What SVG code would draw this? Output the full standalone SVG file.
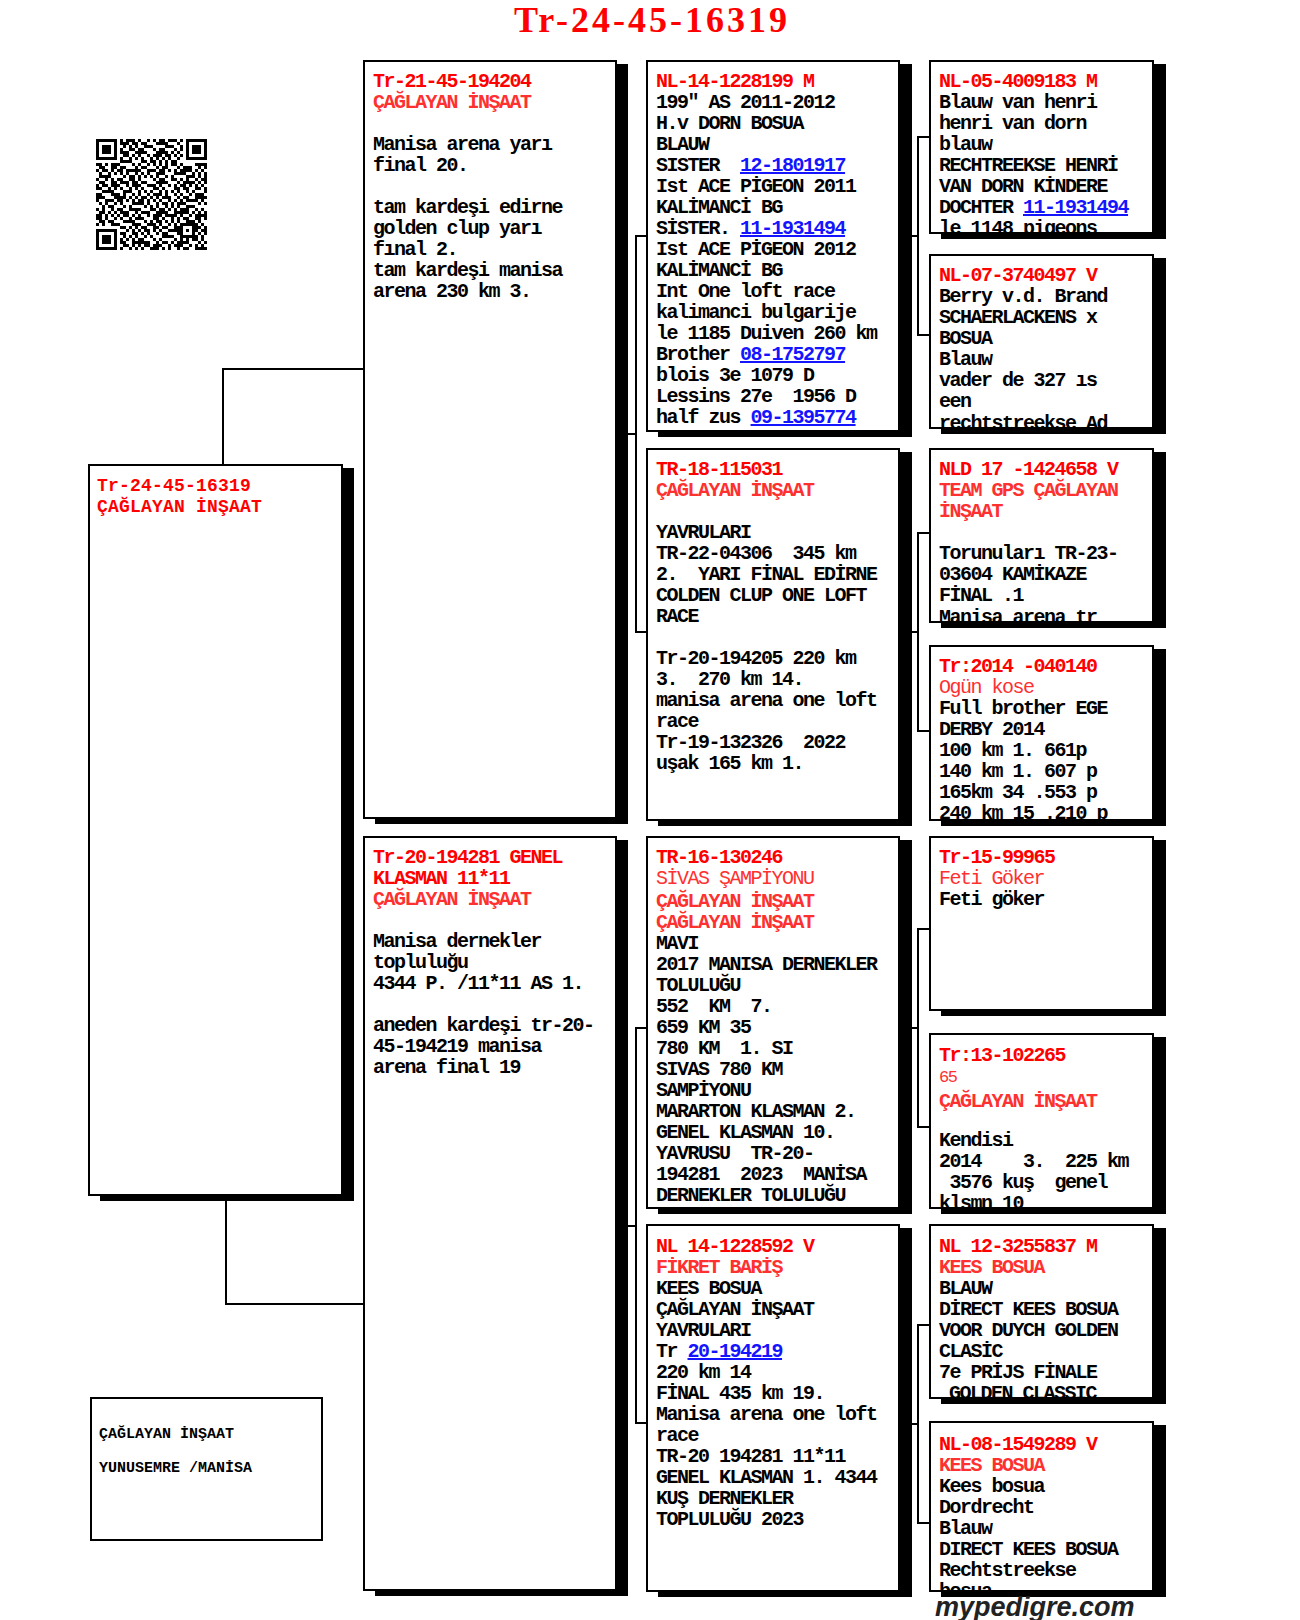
<svg xmlns="http://www.w3.org/2000/svg" width="1300" height="1620" viewBox="0 0 1300 1620" xml:space="preserve">
<style>
text{white-space:pre}
.box{fill:#fff;stroke:#000;stroke-width:2}
.sh{fill:#000}
.t{font-family:"Liberation Mono","DejaVu Sans Mono",monospace;font-size:20px;font-weight:bold;letter-spacing:-1.5px;fill:#000;white-space:pre}
.m{font-family:"Liberation Mono","DejaVu Sans Mono",monospace;font-size:18px;font-weight:bold;letter-spacing:0.2px}
.i{font-family:"Liberation Mono","DejaVu Sans Mono",monospace;font-size:15px;font-weight:bold;fill:#000}
.r{fill:#f00}
.r2{fill:#ff3030}
.lk{fill:#1414ff;text-decoration:underline}
.ln{fill:none;stroke:#000;stroke-width:2}
.title{font-family:"Liberation Serif","DejaVu Serif",serif;font-size:36px;font-weight:bold;fill:#f00}
.foot{font-family:"Liberation Sans","DejaVu Sans",sans-serif;font-size:27px;font-weight:bold;font-style:italic;fill:#222}
</style>
<defs>
<pattern id="qa" patternUnits="userSpaceOnUse" x="96" y="139" width="21" height="15"><path d="M0 0h3v3h-3zM9 0h3v3h-3zM15 0h3v3h-3zM3 3h3v3h-3zM18 3h3v3h-3zM6 6h3v3h-3zM12 6h3v3h-3zM0 9h3v3h-3zM15 9h3v3h-3zM3 12h6v3h-6zM18 12h3v3h-3z" fill="#000"/></pattern>
<pattern id="qb" patternUnits="userSpaceOnUse" x="96" y="139" width="33" height="39"><path d="M0 0h3v3h-3zM9 0h3v3h-3zM24 0h3v3h-3zM3 3h3v3h-3zM15 3h3v3h-3zM27 3h6v3h-6zM6 6h3v3h-3zM18 6h6v3h-6zM0 9h3v3h-3zM12 9h3v3h-3zM24 9h3v3h-3zM9 12h3v3h-3zM15 12h3v3h-3zM30 12h3v3h-3zM3 15h3v3h-3zM18 15h3v3h-3zM27 15h3v3h-3zM0 18h3v3h-3zM6 18h3v3h-3zM21 18h3v3h-3zM12 21h3v3h-3zM24 21h3v3h-3zM30 21h3v3h-3zM3 24h3v3h-3zM9 24h3v3h-3zM18 24h3v3h-3zM15 27h3v3h-3zM27 27h3v3h-3zM0 30h3v3h-3zM6 30h3v3h-3zM21 30h6v3h-6zM12 33h3v3h-3zM18 33h3v3h-3zM30 33h3v3h-3zM3 36h3v3h-3zM9 36h3v3h-3zM27 36h3v3h-3z" fill="#000"/></pattern>
<clipPath id="c-main"><rect x="89" y="465" width="253" height="729"/></clipPath>
<clipPath id="c-s"><rect x="364" y="61" width="252" height="756"/></clipPath>
<clipPath id="c-d"><rect x="364" y="837" width="252" height="752"/></clipPath>
<clipPath id="c-ss"><rect x="647" y="61" width="252" height="369"/></clipPath>
<clipPath id="c-sd"><rect x="647" y="449" width="252" height="370"/></clipPath>
<clipPath id="c-ds"><rect x="647" y="837" width="252" height="370"/></clipPath>
<clipPath id="c-dd"><rect x="647" y="1225" width="252" height="365"/></clipPath>
<clipPath id="c-sss"><rect x="930" y="61" width="223" height="171"/></clipPath>
<clipPath id="c-ssd"><rect x="930" y="255" width="223" height="172"/></clipPath>
<clipPath id="c-sds"><rect x="930" y="449" width="223" height="172"/></clipPath>
<clipPath id="c-sdd"><rect x="930" y="646" width="223" height="173"/></clipPath>
<clipPath id="c-dss"><rect x="930" y="837" width="223" height="172"/></clipPath>
<clipPath id="c-dsd"><rect x="930" y="1034" width="223" height="173"/></clipPath>
<clipPath id="c-dds"><rect x="930" y="1225" width="223" height="172"/></clipPath>
<clipPath id="c-ddd"><rect x="930" y="1422" width="223" height="168"/></clipPath>
</defs>

<rect x="0" y="0" width="1300" height="1620" fill="#fff"/>

<text class="title" x="514" y="32" textLength="273" lengthAdjust="spacing">Tr-24-45-16319</text>

<g id="qr">
<rect x="96" y="139" width="111" height="111" fill="url(#qa)"/>
<rect x="96" y="139" width="111" height="111" fill="url(#qb)"/>
<rect x="96" y="139" width="24" height="24" fill="#fff"/><rect x="96" y="139" width="21" height="21" fill="#000"/><rect x="99" y="142" width="15" height="15" fill="#fff"/><rect x="102" y="145" width="9" height="9" fill="#000"/>
<rect x="183" y="139" width="24" height="24" fill="#fff"/><rect x="186" y="139" width="21" height="21" fill="#000"/><rect x="189" y="142" width="15" height="15" fill="#fff"/><rect x="192" y="145" width="9" height="9" fill="#000"/>
<rect x="96" y="226" width="24" height="24" fill="#fff"/><rect x="96" y="229" width="21" height="21" fill="#000"/><rect x="99" y="232" width="15" height="15" fill="#fff"/><rect x="102" y="235" width="9" height="9" fill="#000"/>
<rect x="180" y="223" width="15" height="15" fill="#000"/><rect x="183" y="226" width="9" height="9" fill="#fff"/><rect x="186" y="229" width="3" height="3" fill="#000"/>
</g>

<g id="connectors" class="ln">
<path d="M223 465V369H364"/>
<path d="M226 1195V1304H364"/>
<path d="M616 434H636M647 236H636V632H647"/>
<path d="M616 1226H636M647 1028H636V1423H647"/>
<path d="M899 236H918M930 137H918V335H930"/>
<path d="M899 632H918M930 533H918V731H930"/>
<path d="M899 1028H918M930 929H918V1127H930"/>
<path d="M899 1424H918M930 1325H918V1523H930"/>
</g>

<g id="n-main">
<rect class="sh" x="100" y="468" width="254" height="733"/>
<rect class="box" x="89" y="465" width="253" height="730"/>
<g clip-path="url(#c-main)">
<text class="m r" x="97" y="491">Tr-24-45-16319</text>
<text class="m r" x="97" y="512">ÇAĞLAYAN İNŞAAT</text>
</g>
</g>

<g id="n-info">
<rect class="box" x="91" y="1398" width="231" height="142"/>
<text class="i" x="99" y="1438">ÇAĞLAYAN İNŞAAT</text>
<text class="i" x="99" y="1472">YUNUSEMRE /MANİSA</text>
</g>

<g id="n-s">
<rect class="sh" x="375" y="64" width="253" height="760"/>
<rect class="box" x="364" y="61" width="252" height="757"/>
<g clip-path="url(#c-s)">
<text class="t r" x="373" y="87">Tr-21-45-194204</text>
<text class="t r2" x="373" y="108">ÇAĞLAYAN İNŞAAT</text>
<text class="t" x="373" y="150">Manisa arena yarı</text>
<text class="t" x="373" y="171">final 20.</text>
<text class="t" x="373" y="213">tam kardeşi edirne</text>
<text class="t" x="373" y="234">golden clup yarı</text>
<text class="t" x="373" y="255">fınal 2.</text>
<text class="t" x="373" y="276">tam kardeşi manisa</text>
<text class="t" x="373" y="297">arena 230 km 3.</text>
</g>
</g>

<g id="n-d">
<rect class="sh" x="375" y="840" width="253" height="756"/>
<rect class="box" x="364" y="837" width="252" height="753"/>
<g clip-path="url(#c-d)">
<text class="t r" x="373" y="863">Tr-20-194281 GENEL</text>
<text class="t r" x="373" y="884">KLASMAN 11*11</text>
<text class="t r2" x="373" y="905">ÇAĞLAYAN İNŞAAT</text>
<text class="t" x="373" y="947">Manisa dernekler</text>
<text class="t" x="373" y="968">topluluğu</text>
<text class="t" x="373" y="989">4344 P. /11*11 AS 1.</text>
<text class="t" x="373" y="1031">aneden kardeşi tr-20-</text>
<text class="t" x="373" y="1052">45-194219 manisa</text>
<text class="t" x="373" y="1073">arena final 19</text>
</g>
</g>

<g id="n-ss">
<rect class="sh" x="658" y="64" width="254" height="373"/>
<rect class="box" x="647" y="61" width="252" height="370"/>
<g clip-path="url(#c-ss)">
<text class="t r" x="656" y="87">NL-14-1228199 M</text>
<text class="t" x="656" y="108">199″ AS 2011-2012</text>
<text class="t" x="656" y="129">H.v DORN BOSUA</text>
<text class="t" x="656" y="150">BLAUW</text>
<text class="t" x="656" y="171" xml:space="preserve">SISTER  <tspan class="lk">12-1801917</tspan></text>
<text class="t" x="656" y="192">Ist ACE PİGEON 2011</text>
<text class="t" x="656" y="213">KALİMANCİ BG</text>
<text class="t" x="656" y="234" xml:space="preserve">SİSTER. <tspan class="lk">11-1931494</tspan></text>
<text class="t" x="656" y="255">Ist ACE PİGEON 2012</text>
<text class="t" x="656" y="276">KALİMANCİ BG</text>
<text class="t" x="656" y="297">Int One loft race</text>
<text class="t" x="656" y="318">kalimanci bulgarije</text>
<text class="t" x="656" y="339">le 1185 Duiven 260 km</text>
<text class="t" x="656" y="360" xml:space="preserve">Brother <tspan class="lk">08-1752797</tspan></text>
<text class="t" x="656" y="381">blois 3e 1079 D</text>
<text class="t" x="656" y="402" xml:space="preserve">Lessins 27e  1956 D</text>
<text class="t" x="656" y="423" xml:space="preserve">half zus <tspan class="lk">09-1395774</tspan></text>
</g>
</g>

<g id="n-sd">
<rect class="sh" x="658" y="452" width="254" height="374"/>
<rect class="box" x="647" y="449" width="252" height="371"/>
<g clip-path="url(#c-sd)">
<text class="t r" x="656" y="475">TR-18-115031</text>
<text class="t r2" x="656" y="496">ÇAĞLAYAN İNŞAAT</text>
<text class="t" x="656" y="538">YAVRULARI</text>
<text class="t" x="656" y="559" xml:space="preserve">TR-22-04306  345 km</text>
<text class="t" x="656" y="580" xml:space="preserve">2.  YARI FİNAL EDİRNE</text>
<text class="t" x="656" y="601">COLDEN CLUP ONE LOFT</text>
<text class="t" x="656" y="622">RACE</text>
<text class="t" x="656" y="664">Tr-20-194205 220 km</text>
<text class="t" x="656" y="685" xml:space="preserve">3.  270 km 14.</text>
<text class="t" x="656" y="706">manisa arena one loft</text>
<text class="t" x="656" y="727">race</text>
<text class="t" x="656" y="748" xml:space="preserve">Tr-19-132326  2022</text>
<text class="t" x="656" y="769">uşak 165 km 1.</text>
</g>
</g>

<g id="n-ds">
<rect class="sh" x="658" y="840" width="254" height="374"/>
<rect class="box" x="647" y="837" width="252" height="371"/>
<g clip-path="url(#c-ds)">
<text class="t r" x="656" y="863">TR-16-130246</text>
<text class="t r2" x="656" y="884" style="font-weight:normal">SİVAS ŞAMPİYONU</text>
<text class="t r2" x="656" y="907">ÇAĞLAYAN İNŞAAT</text>
<text class="t r2" x="656" y="928">ÇAĞLAYAN İNŞAAT</text>
<text class="t" x="656" y="949">MAVI</text>
<text class="t" x="656" y="970">2017 MANISA DERNEKLER</text>
<text class="t" x="656" y="991">TOLULUĞU</text>
<text class="t" x="656" y="1012" xml:space="preserve">552  KM  7.</text>
<text class="t" x="656" y="1033">659 KM 35</text>
<text class="t" x="656" y="1054" xml:space="preserve">780 KM  1. SI</text>
<text class="t" x="656" y="1075">SIVAS 780 KM</text>
<text class="t" x="656" y="1096">SAMPİYONU</text>
<text class="t" x="656" y="1117">MARARTON KLASMAN 2.</text>
<text class="t" x="656" y="1138">GENEL KLASMAN 10.</text>
<text class="t" x="656" y="1159" xml:space="preserve">YAVRUSU  TR-20-</text>
<text class="t" x="656" y="1180" xml:space="preserve">194281  2023  MANİSA</text>
<text class="t" x="656" y="1201">DERNEKLER TOLULUĞU</text>
</g>
</g>

<g id="n-dd">
<rect class="sh" x="658" y="1228" width="254" height="369"/>
<rect class="box" x="647" y="1225" width="252" height="366"/>
<g clip-path="url(#c-dd)">
<text class="t r" x="656" y="1252">NL 14-1228592 V</text>
<text class="t r2" x="656" y="1273">FİKRET BARİŞ</text>
<text class="t" x="656" y="1294">KEES BOSUA</text>
<text class="t" x="656" y="1315">ÇAĞLAYAN İNŞAAT</text>
<text class="t" x="656" y="1336">YAVRULARI</text>
<text class="t" x="656" y="1357" xml:space="preserve">Tr <tspan class="lk">20-194219</tspan></text>
<text class="t" x="656" y="1378">220 km 14</text>
<text class="t" x="656" y="1399">FİNAL 435 km 19.</text>
<text class="t" x="656" y="1420">Manisa arena one loft</text>
<text class="t" x="656" y="1441">race</text>
<text class="t" x="656" y="1462">TR-20 194281 11*11</text>
<text class="t" x="656" y="1483">GENEL KLASMAN 1. 4344</text>
<text class="t" x="656" y="1504">KUŞ DERNEKLER</text>
<text class="t" x="656" y="1525">TOPLULUĞU 2023</text>
</g>
</g>

<g id="n-sss">
<rect class="sh" x="941" y="64" width="225" height="175"/>
<rect class="box" x="930" y="61" width="223" height="172"/>
<g clip-path="url(#c-sss)">
<text class="t r" x="939" y="87">NL-05-4009183 M</text>
<text class="t" x="939" y="108">Blauw van henri</text>
<text class="t" x="939" y="129">henri van dorn</text>
<text class="t" x="939" y="150">blauw</text>
<text class="t" x="939" y="171">RECHTREEKSE HENRİ</text>
<text class="t" x="939" y="192">VAN DORN KİNDERE</text>
<text class="t" x="939" y="213" xml:space="preserve">DOCHTER <tspan class="lk">11-1931494</tspan></text>
<text class="t" x="939" y="234">le 1148 pigeons</text>
</g>
</g>

<g id="n-ssd">
<rect class="sh" x="941" y="258" width="225" height="176"/>
<rect class="box" x="930" y="255" width="223" height="173"/>
<g clip-path="url(#c-ssd)">
<text class="t r" x="939" y="281">NL-07-3740497 V</text>
<text class="t" x="939" y="302">Berry v.d. Brand</text>
<text class="t" x="939" y="323">SCHAERLACKENS x</text>
<text class="t" x="939" y="344">BOSUA</text>
<text class="t" x="939" y="365">Blauw</text>
<text class="t" x="939" y="386">vader de 327 ıs</text>
<text class="t" x="939" y="407">een</text>
<text class="t" x="939" y="429">rechtstreekse Ad</text>
</g>
</g>

<g id="n-sds">
<rect class="sh" x="941" y="452" width="225" height="176"/>
<rect class="box" x="930" y="449" width="223" height="173"/>
<g clip-path="url(#c-sds)">
<text class="t r" x="939" y="475">NLD 17 -1424658 V</text>
<text class="t r2" x="939" y="496">TEAM GPS ÇAĞLAYAN</text>
<text class="t r2" x="939" y="517">İNŞAAT</text>
<text class="t" x="939" y="559">Torunuları TR-23-</text>
<text class="t" x="939" y="580">03604 KAMİKAZE</text>
<text class="t" x="939" y="601">FİNAL .1</text>
<text class="t" x="939" y="623">Manisa arena tr</text>
</g>
</g>

<g id="n-sdd">
<rect class="sh" x="941" y="649" width="225" height="177"/>
<rect class="box" x="930" y="646" width="223" height="174"/>
<g clip-path="url(#c-sdd)">
<text class="t r" x="939" y="672">Tr:2014 -040140</text>
<text class="t r2" x="939" y="693" style="font-weight:normal">Ogün kose</text>
<text class="t" x="939" y="714">Full brother EGE</text>
<text class="t" x="939" y="735">DERBY 2014</text>
<text class="t" x="939" y="756">100 km 1. 661p</text>
<text class="t" x="939" y="777">140 km 1. 607 p</text>
<text class="t" x="939" y="798">165km 34 .553 p</text>
<text class="t" x="939" y="819">240 km 15 .210 p</text>
</g>
</g>

<g id="n-dss">
<rect class="sh" x="941" y="840" width="225" height="176"/>
<rect class="box" x="930" y="837" width="223" height="173"/>
<g clip-path="url(#c-dss)">
<text class="t r" x="939" y="863">Tr-15-99965</text>
<text class="t r2" x="939" y="884" style="font-weight:normal">Feti Göker</text>
<text class="t" x="939" y="905">Feti göker</text>
</g>
</g>

<g id="n-dsd">
<rect class="sh" x="941" y="1037" width="225" height="177"/>
<rect class="box" x="930" y="1034" width="223" height="174"/>
<g clip-path="url(#c-dsd)">
<text class="t r" x="939" y="1061">Tr:13-102265</text>
<text class="t r2" x="939" y="1082" style="font-size:17px;font-weight:normal">65</text>
<text class="t r2" x="939" y="1107">ÇAĞLAYAN İNŞAAT</text>
<text class="t" x="939" y="1146">Kendisi</text>
<text class="t" x="939" y="1167" xml:space="preserve">2014    3.  225 km</text>
<text class="t" x="939" y="1188" xml:space="preserve"> 3576 kuş  genel</text>
<text class="t" x="939" y="1209">klsmn 10</text>
</g>
</g>

<g id="n-dds">
<rect class="sh" x="941" y="1228" width="225" height="176"/>
<rect class="box" x="930" y="1225" width="223" height="173"/>
<g clip-path="url(#c-dds)">
<text class="t r" x="939" y="1252">NL 12-3255837 M</text>
<text class="t r2" x="939" y="1273">KEES BOSUA</text>
<text class="t" x="939" y="1294">BLAUW</text>
<text class="t" x="939" y="1315">DİRECT KEES BOSUA</text>
<text class="t" x="939" y="1336">VOOR DUYCH GOLDEN</text>
<text class="t" x="939" y="1357">CLASİC</text>
<text class="t" x="939" y="1378">7e PRİJS FİNALE</text>
<text class="t" x="949" y="1399">GOLDEN CLASSIC</text>
</g>
</g>

<g id="n-ddd">
<rect class="sh" x="941" y="1425" width="225" height="172"/>
<rect class="box" x="930" y="1422" width="223" height="169"/>
<g clip-path="url(#c-ddd)">
<text class="t r" x="939" y="1450">NL-08-1549289 V</text>
<text class="t r2" x="939" y="1471">KEES BOSUA</text>
<text class="t" x="939" y="1492">Kees bosua</text>
<text class="t" x="939" y="1513">Dordrecht</text>
<text class="t" x="939" y="1534">Blauw</text>
<text class="t" x="939" y="1555">DIRECT KEES BOSUA</text>
<text class="t" x="939" y="1576">Rechtstreekse</text>
<text class="t" x="939" y="1597">bosua</text>
</g>
</g>

<text class="foot" x="935" y="1616">mypedigre.com</text>
</svg>
